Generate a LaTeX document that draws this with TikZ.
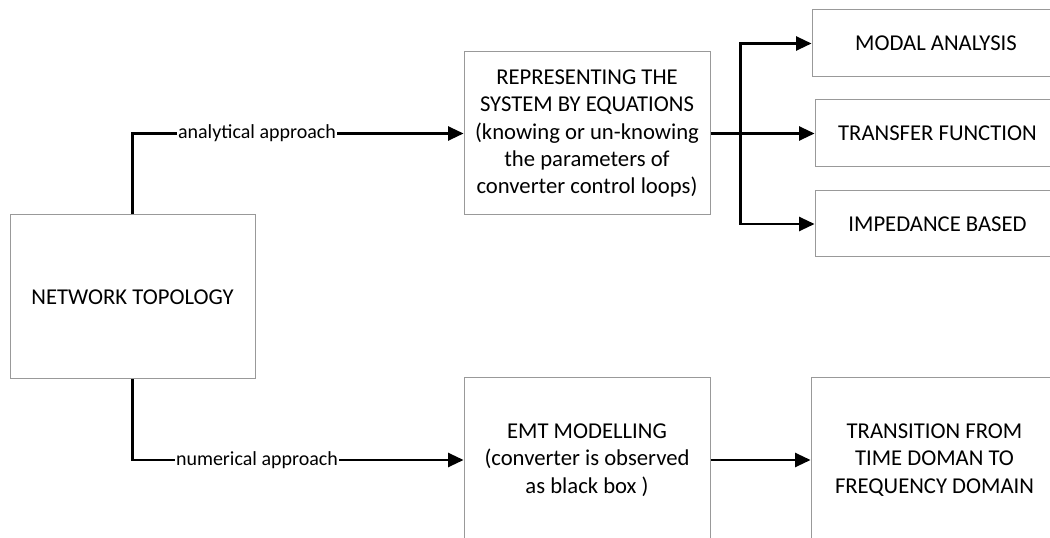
\documentclass[tikz,border=0pt]{standalone}
\usepackage{fontspec}
\setmainfont{Carlito}
\usetikzlibrary{arrows.meta}
\begin{document}
\begin{tikzpicture}[x=0.75pt,y=-0.75pt,
  box/.style={draw=black!40, line width=0.75pt, rectangle, inner sep=0pt, align=center,
    font=\fontsize{17}{20.6}\selectfont},
  txt/.style={inner sep=0pt, align=center, font=\fontsize{17}{20.6}\selectfont},
  conn/.style={line width=1.6pt, -{Triangle[length=11.5pt,width=10.5pt]}},
  plain/.style={line width=1.6pt},
  lbl/.style={fill=white, inner sep=0.5pt, font=\fontsize{15}{18}\selectfont}]
\useasboundingbox (0,0) rectangle (1050,538);
\clip (0,0) rectangle (1050,538);
% boxes
\node[box, minimum width=245*0.75pt, minimum height=164*0.75pt] (net) at (132.5,297) {NETWORK TOPOLOGY};
\node[box, minimum width=246*0.75pt, minimum height=163*0.75pt] (rep) at (587,133.5) {REPRESENTING THE\\SYSTEM BY EQUATIONS\\(knowing or un-knowing\\the parameters of\\converter control loops)};
\node[box, minimum width=248*0.75pt, minimum height=67*0.75pt] (modal) at (936,43.5) {MODAL ANALYSIS};
\node[box, minimum width=245*0.75pt, minimum height=67*0.75pt] (transfer) at (937.5,133.5) {TRANSFER FUNCTION};
\node[box, minimum width=245*0.75pt, minimum height=66*0.75pt] (imped) at (937.5,224) {IMPEDANCE BASED};
\node[box, minimum width=246*0.75pt, minimum height=164*0.75pt] (emt) at (587,460) {EMT MODELLING\\(converter is observed\\as black box )};
\node[box, minimum width=247*0.75pt, minimum height=164*0.75pt] (trans) at (934.5,460) {TRANSITION FROM\\TIME DOMAN TO\\FREQUENCY DOMAIN};
% connectors
\draw[conn] (net.north) |- node[pos=0.688, lbl] (la) {analytical approach} (rep.west);
\draw[conn] (net.south) |- node[pos=0.688, lbl] (ln) {numerical approach} (emt.west);
\draw[plain] (rep.east) -- ++(30,0) coordinate (br);
\draw[conn] (br) |- (modal.west);
\draw[conn] (br) -- (transfer.west);
\draw[conn] (br) |- (imped.west);
\draw[conn] (emt.east) -- (trans.west);
\end{tikzpicture}
\end{document}
